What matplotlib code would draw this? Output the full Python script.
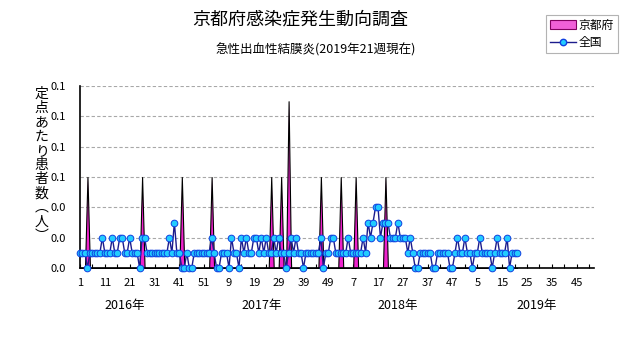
import matplotlib
matplotlib.use("Agg")
import matplotlib.pyplot as plt
from matplotlib.patches import Patch
from matplotlib.lines import Line2D
from matplotlib.ticker import FormatStrFormatter, MultipleLocator
import matplotlib.transforms as mtransforms
import numpy as np

plt.rcParams['font.family'] = ['Noto Sans CJK JP', 'DejaVu Sans']

# weekly index: 0 = 2016 week 1, 52 weeks per year
weeks_per_year = 52
n_axis_weeks = 208

# per-sentinel counts, nationwide (through 2019 week 21)
national = [
    .01, .01, .01, 0, .01, .01, .01, .01, .01, .02,
    .01, .01, .01, .02, .01, .01, .02, .02, .01, .01,
    .02, .01, .01, .01, 0, .02, .02, .01, .01, .01,
    .01, .01, .01, .01, .01, .01, .02, .01, .03, .01,
    .01, 0, 0, .01, 0, 0, .01, .01, .01, .01,
    .01, .01, .01, .02, .01, 0, 0, .01, .01, .01,
    0, .02, .01, .01, 0, .02, .01, .02, .01, .01,
    .02, .02, .01, .02, .01, .02, .01, .01, .02, .01,
    .02, .01, .01, 0, .01, .02, .01, .02, .01, .01,
    0, .01, .01, .01, .01, .01, .01, .02, 0, .01,
    .01, .02, .02, .01, .01, .01, .01, .01, .02, .01,
    .01, .01, .01, .01, .02, .01, .03, .02, .03, .04,
    .04, .02, .03, .03, .03, .02, .02, .02, .03, .02,
    .02, .02, .01, .02, .01, 0, 0, .01, .01, .01,
    .01, .01, 0, 0, .01, .01, .01, .01, .01, 0,
    0, .01, .02, .01, .01, .02, .01, .01, 0, .01,
    .01, .02, .01, .01, .01, .01, 0, .01, .02, .01,
    .01, .01, .02, 0, .01, .01, .01,
]

# per-sentinel counts, Kyoto prefecture
kyoto = [
    0, 0, 0, .06, 0, 0, 0, 0, 0, 0,
    0, 0, 0, 0, 0, 0, 0, 0, 0, 0,
    0, 0, 0, 0, 0, .06, 0, 0, 0, 0,
    0, 0, 0, 0, 0, 0, 0, 0, 0, 0,
    0, .06, 0, 0, 0, 0, 0, 0, 0, 0,
    0, 0, 0, .06, 0, 0, 0, 0, 0, 0,
    0, 0, 0, 0, 0, 0, 0, 0, 0, 0,
    0, 0, 0, 0, 0, 0, 0, .06, 0, 0,
    0, .06, 0, 0, .11, 0, 0, 0, 0, 0,
    0, 0, 0, 0, 0, 0, 0, .06, 0, 0,
    0, 0, 0, 0, 0, .06, 0, 0, 0, 0,
    0, .06, 0, 0, 0, 0, 0, 0, 0, 0,
    0, 0, 0, .06, 0, 0, 0, 0, 0, 0,
    0, 0, 0, 0, 0, 0, 0, 0, 0, 0,
    0, 0, 0, 0, 0, 0, 0, 0, 0, 0,
    0, 0, 0, 0, 0, 0, 0, 0, 0, 0,
    0, 0, 0, 0, 0, 0, 0, 0, 0, 0,
    0, 0, 0, 0, 0, 0, 0,
]

years = ['2016年', '2017年', '2018年', '2019年']
year_label_pos = [18, 73, 128, 184]
y_ticks = [0, 0.02, 0.04, 0.06, 0.08, 0.10, 0.12]

fig = plt.figure(figsize=(6.31, 3.47), dpi=100)
ax = fig.add_axes([0.1268, 0.2277, 0.8146, 0.5243])

x_nat = np.arange(len(national))
x_kyo = np.arange(len(kyoto))

# Kyoto as filled area with black outline
ax.fill_between(x_kyo, kyoto, 0, facecolor='#ee22cc', edgecolor='black',
                linewidth=0.8, zorder=2)

# nationwide as line with round markers
ax.plot(x_nat, national, color='#1c1c8c', linewidth=1.0, marker='o',
        markersize=4.8, markerfacecolor='#22ccff', markeredgecolor='#1040e0',
        markeredgewidth=0.7, zorder=3, clip_on=False)

ax.set_xlim(0, n_axis_weeks - 1)
ax.set_ylim(0, 0.12)

ax.set_yticks(y_ticks)
ax.yaxis.set_major_formatter(FormatStrFormatter('%.1f'))
ax.yaxis.grid(True, color='#a8a8a8', linestyle=(0, (3, 2)), linewidth=0.8)
ax.set_axisbelow(True)

major = list(range(0, n_axis_weeks, 10))
ax.set_xticks(major)
ax.set_xticklabels([str(i % weeks_per_year + 1) for i in major])
ax.xaxis.set_minor_locator(MultipleLocator(5))

ax.tick_params(axis='x', which='both', direction='in', length=3, width=0.8,
               labelsize=8, pad=7)
ax.tick_params(axis='y', length=0, labelsize=8, pad=10)

for side in ['top', 'right']:
    ax.spines[side].set_visible(False)
ax.spines['left'].set_linewidth(1.2)
ax.spines['bottom'].set_linewidth(1.2)

trans = mtransforms.blended_transform_factory(ax.transData, ax.transAxes)
for yr, pos in zip(years, year_label_pos):
    ax.text(pos, -0.205, yr, transform=trans, ha='center', va='center',
            fontsize=9)

# vertical y-axis label, one character per line
ylabel = '定点あたり患者数︵人︶'
fig.text(0.066, 0.525, '\n'.join(ylabel), ha='center', va='center',
         fontsize=10, linespacing=1.02)

fig.text(0.475, 0.945, '京都府感染症発生動向調査', ha='center', va='center',
         fontsize=13)
fig.text(0.5, 0.857, '急性出血性結膜炎(2019年21週現在)', ha='center',
         va='center', fontsize=9)

handles = [
    Patch(facecolor='#f060d8', edgecolor='#800060', linewidth=0.8),
    Line2D([0], [0], color='#1c1c8c', linewidth=1.0, marker='o',
           markersize=4.6, markerfacecolor='#22ccff', markeredgecolor='#1040e0'),
]
leg = fig.legend(handles, ['京都府', '全国'], loc='upper right',
                 bbox_to_anchor=(0.988, 0.975), fontsize=8.5, frameon=True,
                 fancybox=False, edgecolor='#a0a0a0', borderpad=0.35,
                 handlelength=2.2, handletextpad=0.2, labelspacing=0.35)
leg.get_frame().set_linewidth(0.8)

fig.savefig('out.png', dpi=100)
